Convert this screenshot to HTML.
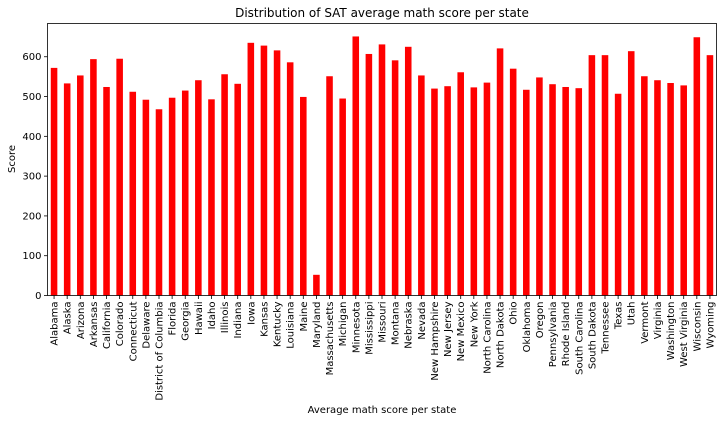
<!DOCTYPE html>
<html><head><meta charset="utf-8"><style>
html,body{margin:0;padding:0;background:#fff;}
svg{display:block;font-family:"DejaVu Sans","Liberation Sans",sans-serif;}
</style></head><body>
<svg id="chart" width="727" height="422" xmlns="http://www.w3.org/2000/svg">
<text x="382" y="17" font-size="12" text-anchor="middle">Distribution of SAT average math score per state</text>
<text x="382" y="413" font-size="10" text-anchor="middle">Average math score per state</text>
<text transform="translate(15,159) rotate(-90)" font-size="10" text-anchor="middle">Score</text>
<g id="bars"></g>
<g id="yticks"></g>
<g id="xticks"></g>
<rect x="47.5" y="23.5" width="669" height="272" fill="none" stroke="#000" stroke-width="0.8"/>
</svg>
<script>
const states=["Alabama","Alaska","Arizona","Arkansas","California","Colorado","Connecticut","Delaware","District of Columbia","Florida","Georgia","Hawaii","Idaho","Illinois","Indiana","Iowa","Kansas","Kentucky","Louisiana","Maine","Maryland","Massachusetts","Michigan","Minnesota","Mississippi","Missouri","Montana","Nebraska","Nevada","New Hampshire","New Jersey","New Mexico","New York","North Carolina","North Dakota","Ohio","Oklahoma","Oregon","Pennsylvania","Rhode Island","South Carolina","South Dakota","Tennessee","Texas","Utah","Vermont","Virginia","Washington","West Virginia","Wisconsin","Wyoming"];
const mathScores=[572,533,553,594,524,595,512,492,468,497,515,541,493,556,532,635,628,616,586,499,52,551,495,651,607,631,591,625,553,520,526,561,523,535,621,570,517,548,531,524,521,604,604,507,614,551,541,534,528,649,604];
const yTicks=[0,100,200,300,400,500,600];
const NS="http://www.w3.org/2000/svg";
const L=47.5,R=716.5,T=23.5,B=295.5;
const yMax=Math.max(...mathScores)*1.05;
const y=v=>B-(v/yMax)*(B-T);
const band=(R-L)/states.length;
const x=i=>L+band*(i+0.5);
const bars=document.getElementById('bars'),yt=document.getElementById('yticks'),xt=document.getElementById('xticks');
mathScores.forEach((v,i)=>{
  const r=document.createElementNS(NS,'rect');
  r.setAttribute('x',x(i)-band*0.25);r.setAttribute('width',band*0.5);
  r.setAttribute('y',y(v));r.setAttribute('height',B-y(v));r.setAttribute('fill','#ff0000');
  
  
  bars.appendChild(r);
  const tk=document.createElementNS(NS,'line');
  tk.setAttribute('x1',x(i));tk.setAttribute('x2',x(i));tk.setAttribute('y1',B);tk.setAttribute('y2',B+3.5);tk.setAttribute('stroke','#000');tk.setAttribute('stroke-width','0.8');
  
  
  xt.appendChild(tk);
  const t=document.createElementNS(NS,'text');
  t.setAttribute('transform','translate('+(x(i)+3.5)+','+(B+6)+') rotate(-90)');
  t.setAttribute('font-size','10');t.setAttribute('text-anchor','end');
  t.textContent=states[i];
  
  
  xt.appendChild(t);
});
yTicks.forEach(v=>{
  const tk=document.createElementNS(NS,'line');
  tk.setAttribute('x1',L-3.5);tk.setAttribute('x2',L);tk.setAttribute('y1',y(v));tk.setAttribute('y2',y(v));tk.setAttribute('stroke','#000');tk.setAttribute('stroke-width','0.8');
  
  
  yt.appendChild(tk);
  const t=document.createElementNS(NS,'text');
  t.setAttribute('x',L-6);t.setAttribute('y',y(v)+3.5);t.setAttribute('font-size','10');t.setAttribute('text-anchor','end');
  t.textContent=v;
  
  
  yt.appendChild(t);
});
</script>
</body></html>
